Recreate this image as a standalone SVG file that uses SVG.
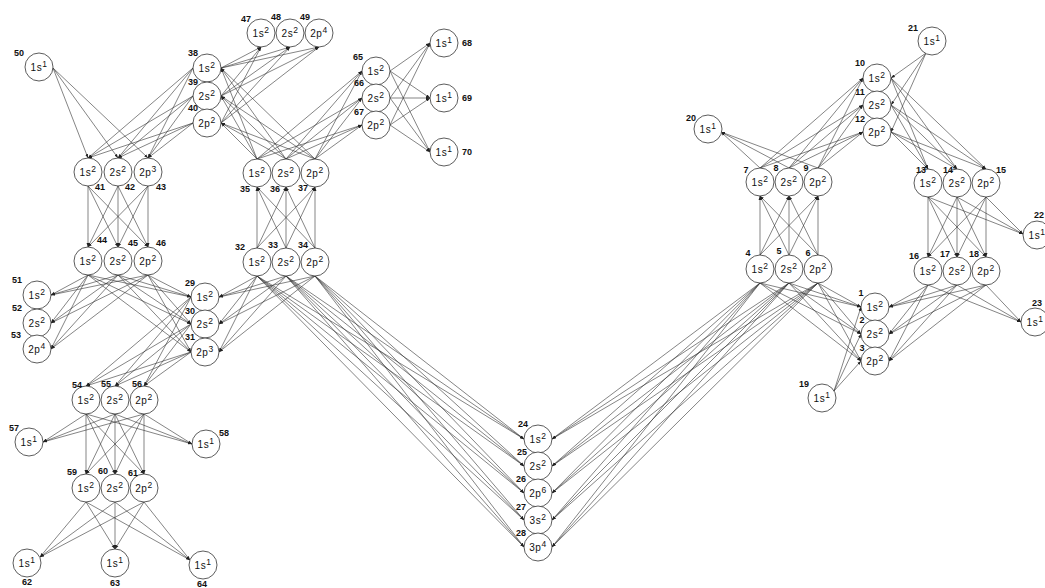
<svg xmlns="http://www.w3.org/2000/svg" width="1045" height="588" viewBox="0 0 1045 588">
<defs>
<marker id="a" viewBox="0 0 6 6" refX="6" refY="3" markerWidth="4" markerHeight="4" markerUnits="userSpaceOnUse" orient="auto"><path d="M0,0.8 L6,3 L0,5.2z" fill="#222"/></marker>
<style>
.c line{stroke:#333;stroke-width:.6;marker-end:url(#a)}
circle{fill:#fff;stroke:#333;stroke-width:.8}
.t{font-family:"Liberation Sans",Arial,sans-serif;font-size:10px;fill:#111;text-anchor:middle;letter-spacing:.5px}
.t tspan{font-size:8.5px}
.n{font-family:"Liberation Sans",Arial,sans-serif;font-size:9px;font-weight:bold;fill:#111;text-anchor:middle}
</style>
</defs>
<rect width="1045" height="588" fill="#fff"/>
<g class="c" id="connectors">
<line x1="760" y1="283" x2="861" y2="307"/><line x1="760" y1="283" x2="861" y2="334"/><line x1="760" y1="283" x2="861" y2="361"/>
<line x1="789" y1="283" x2="861" y2="307"/><line x1="789" y1="283" x2="861" y2="334"/><line x1="789" y1="283" x2="861" y2="361"/>
<line x1="818" y1="283" x2="861" y2="307"/><line x1="818" y1="283" x2="861" y2="334"/><line x1="818" y1="283" x2="861" y2="361"/>
<line x1="928" y1="285" x2="889" y2="307"/><line x1="928" y1="285" x2="889" y2="334"/><line x1="928" y1="285" x2="889" y2="361"/>
<line x1="957" y1="285" x2="889" y2="307"/><line x1="957" y1="285" x2="889" y2="334"/><line x1="957" y1="285" x2="889" y2="361"/>
<line x1="986" y1="285" x2="889" y2="307"/><line x1="986" y1="285" x2="889" y2="334"/><line x1="986" y1="285" x2="889" y2="361"/>
<line x1="834" y1="391" x2="861" y2="307"/><line x1="834" y1="391" x2="861" y2="334"/><line x1="834" y1="391" x2="861" y2="361"/>
<line x1="760" y1="255" x2="760" y2="196"/><line x1="760" y1="255" x2="789" y2="196"/><line x1="760" y1="255" x2="818" y2="196"/>
<line x1="789" y1="255" x2="760" y2="196"/><line x1="789" y1="255" x2="789" y2="196"/><line x1="789" y1="255" x2="818" y2="196"/>
<line x1="818" y1="255" x2="760" y2="196"/><line x1="818" y1="255" x2="789" y2="196"/><line x1="818" y1="255" x2="818" y2="196"/>
<line x1="760" y1="168" x2="863" y2="78"/><line x1="760" y1="168" x2="863" y2="105"/><line x1="760" y1="168" x2="863" y2="132"/>
<line x1="789" y1="168" x2="863" y2="78"/><line x1="789" y1="168" x2="863" y2="105"/><line x1="789" y1="168" x2="863" y2="132"/>
<line x1="818" y1="168" x2="863" y2="78"/><line x1="818" y1="168" x2="863" y2="105"/><line x1="818" y1="168" x2="863" y2="132"/>
<line x1="760" y1="168" x2="721" y2="132"/><line x1="789" y1="168" x2="721" y2="132"/><line x1="818" y1="168" x2="721" y2="132"/>
<line x1="891" y1="78" x2="928" y2="169"/><line x1="891" y1="78" x2="957" y2="169"/><line x1="891" y1="78" x2="986" y2="169"/>
<line x1="891" y1="105" x2="928" y2="169"/><line x1="891" y1="105" x2="957" y2="169"/><line x1="891" y1="105" x2="986" y2="169"/>
<line x1="891" y1="132" x2="928" y2="169"/><line x1="891" y1="132" x2="957" y2="169"/><line x1="891" y1="132" x2="986" y2="169"/>
<line x1="926" y1="53" x2="891" y2="78"/><line x1="926" y1="53" x2="891" y2="105"/><line x1="926" y1="53" x2="891" y2="132"/>
<line x1="928" y1="197" x2="928" y2="257"/><line x1="928" y1="197" x2="957" y2="257"/><line x1="928" y1="197" x2="986" y2="257"/>
<line x1="957" y1="197" x2="928" y2="257"/><line x1="957" y1="197" x2="957" y2="257"/><line x1="957" y1="197" x2="986" y2="257"/>
<line x1="986" y1="197" x2="928" y2="257"/><line x1="986" y1="197" x2="957" y2="257"/><line x1="986" y1="197" x2="986" y2="257"/>
<line x1="928" y1="197" x2="1023" y2="234"/><line x1="957" y1="197" x2="1023" y2="234"/><line x1="986" y1="197" x2="1023" y2="234"/>
<line x1="928" y1="285" x2="1021" y2="322"/><line x1="957" y1="285" x2="1021" y2="322"/><line x1="986" y1="285" x2="1021" y2="322"/>
<line x1="760" y1="283" x2="552" y2="439"/><line x1="760" y1="283" x2="552" y2="466"/><line x1="760" y1="283" x2="552" y2="493"/><line x1="760" y1="283" x2="552" y2="520"/><line x1="760" y1="283" x2="552" y2="547"/>
<line x1="789" y1="283" x2="552" y2="439"/><line x1="789" y1="283" x2="552" y2="466"/><line x1="789" y1="283" x2="552" y2="493"/><line x1="789" y1="283" x2="552" y2="520"/><line x1="789" y1="283" x2="552" y2="547"/>
<line x1="818" y1="283" x2="552" y2="439"/><line x1="818" y1="283" x2="552" y2="466"/><line x1="818" y1="283" x2="552" y2="493"/><line x1="818" y1="283" x2="552" y2="520"/><line x1="818" y1="283" x2="552" y2="547"/>
<line x1="257" y1="276" x2="524" y2="439"/><line x1="257" y1="276" x2="524" y2="466"/><line x1="257" y1="276" x2="524" y2="493"/><line x1="257" y1="276" x2="524" y2="520"/><line x1="257" y1="276" x2="524" y2="547"/>
<line x1="286" y1="276" x2="524" y2="439"/><line x1="286" y1="276" x2="524" y2="466"/><line x1="286" y1="276" x2="524" y2="493"/><line x1="286" y1="276" x2="524" y2="520"/><line x1="286" y1="276" x2="524" y2="547"/>
<line x1="315" y1="276" x2="524" y2="439"/><line x1="315" y1="276" x2="524" y2="466"/><line x1="315" y1="276" x2="524" y2="493"/><line x1="315" y1="276" x2="524" y2="520"/><line x1="315" y1="276" x2="524" y2="547"/>
<line x1="257" y1="248" x2="257" y2="187"/><line x1="257" y1="248" x2="286" y2="187"/><line x1="257" y1="248" x2="315" y2="187"/>
<line x1="286" y1="248" x2="257" y2="187"/><line x1="286" y1="248" x2="286" y2="187"/><line x1="286" y1="248" x2="315" y2="187"/>
<line x1="315" y1="248" x2="257" y2="187"/><line x1="315" y1="248" x2="286" y2="187"/><line x1="315" y1="248" x2="315" y2="187"/>
<line x1="257" y1="276" x2="219" y2="297"/><line x1="257" y1="276" x2="219" y2="324"/><line x1="257" y1="276" x2="219" y2="352"/>
<line x1="286" y1="276" x2="219" y2="297"/><line x1="286" y1="276" x2="219" y2="324"/><line x1="286" y1="276" x2="219" y2="352"/>
<line x1="315" y1="276" x2="219" y2="297"/><line x1="315" y1="276" x2="219" y2="324"/><line x1="315" y1="276" x2="219" y2="352"/>
<line x1="257" y1="159" x2="221" y2="68"/><line x1="257" y1="159" x2="221" y2="96"/><line x1="257" y1="159" x2="221" y2="123"/>
<line x1="286" y1="159" x2="221" y2="68"/><line x1="286" y1="159" x2="221" y2="96"/><line x1="286" y1="159" x2="221" y2="123"/>
<line x1="315" y1="159" x2="221" y2="68"/><line x1="315" y1="159" x2="221" y2="96"/><line x1="315" y1="159" x2="221" y2="123"/>
<line x1="257" y1="159" x2="362" y2="71"/><line x1="257" y1="159" x2="362" y2="98"/><line x1="257" y1="159" x2="362" y2="125"/>
<line x1="286" y1="159" x2="362" y2="71"/><line x1="286" y1="159" x2="362" y2="98"/><line x1="286" y1="159" x2="362" y2="125"/>
<line x1="315" y1="159" x2="362" y2="71"/><line x1="315" y1="159" x2="362" y2="98"/><line x1="315" y1="159" x2="362" y2="125"/>
<line x1="221" y1="68" x2="261" y2="47"/><line x1="221" y1="68" x2="290" y2="47"/><line x1="221" y1="68" x2="319" y2="47"/>
<line x1="221" y1="96" x2="261" y2="47"/><line x1="221" y1="96" x2="290" y2="47"/><line x1="221" y1="96" x2="319" y2="47"/>
<line x1="221" y1="123" x2="261" y2="47"/><line x1="221" y1="123" x2="290" y2="47"/><line x1="221" y1="123" x2="319" y2="47"/>
<line x1="193" y1="68" x2="88" y2="158"/><line x1="193" y1="68" x2="118" y2="158"/><line x1="193" y1="68" x2="148" y2="158"/>
<line x1="193" y1="96" x2="88" y2="158"/><line x1="193" y1="96" x2="118" y2="158"/><line x1="193" y1="96" x2="148" y2="158"/>
<line x1="193" y1="123" x2="88" y2="158"/><line x1="193" y1="123" x2="118" y2="158"/><line x1="193" y1="123" x2="148" y2="158"/>
<line x1="53" y1="68" x2="88" y2="158"/><line x1="53" y1="68" x2="118" y2="158"/><line x1="53" y1="68" x2="148" y2="158"/>
<line x1="88" y1="186" x2="88" y2="247"/><line x1="88" y1="186" x2="118" y2="247"/><line x1="88" y1="186" x2="148" y2="247"/>
<line x1="118" y1="186" x2="88" y2="247"/><line x1="118" y1="186" x2="118" y2="247"/><line x1="118" y1="186" x2="148" y2="247"/>
<line x1="148" y1="186" x2="88" y2="247"/><line x1="148" y1="186" x2="118" y2="247"/><line x1="148" y1="186" x2="148" y2="247"/>
<line x1="88" y1="275" x2="51" y2="295"/><line x1="88" y1="275" x2="51" y2="323"/><line x1="88" y1="275" x2="51" y2="349"/>
<line x1="118" y1="275" x2="51" y2="295"/><line x1="118" y1="275" x2="51" y2="323"/><line x1="118" y1="275" x2="51" y2="349"/>
<line x1="148" y1="275" x2="51" y2="295"/><line x1="148" y1="275" x2="51" y2="323"/><line x1="148" y1="275" x2="51" y2="349"/>
<line x1="88" y1="275" x2="191" y2="297"/><line x1="88" y1="275" x2="191" y2="324"/><line x1="88" y1="275" x2="191" y2="352"/>
<line x1="118" y1="275" x2="191" y2="297"/><line x1="118" y1="275" x2="191" y2="324"/><line x1="118" y1="275" x2="191" y2="352"/>
<line x1="148" y1="275" x2="191" y2="297"/><line x1="148" y1="275" x2="191" y2="324"/><line x1="148" y1="275" x2="191" y2="352"/>
<line x1="191" y1="297" x2="86" y2="386"/><line x1="191" y1="297" x2="115" y2="386"/><line x1="191" y1="297" x2="144" y2="386"/>
<line x1="191" y1="324" x2="86" y2="386"/><line x1="191" y1="324" x2="115" y2="386"/><line x1="191" y1="324" x2="144" y2="386"/>
<line x1="191" y1="352" x2="86" y2="386"/><line x1="191" y1="352" x2="115" y2="386"/><line x1="191" y1="352" x2="144" y2="386"/>
<line x1="86" y1="414" x2="43" y2="442"/><line x1="115" y1="414" x2="43" y2="442"/><line x1="144" y1="414" x2="43" y2="442"/>
<line x1="86" y1="414" x2="192" y2="444"/><line x1="115" y1="414" x2="192" y2="444"/><line x1="144" y1="414" x2="192" y2="444"/>
<line x1="86" y1="414" x2="86" y2="474"/><line x1="86" y1="414" x2="115" y2="474"/><line x1="86" y1="414" x2="144" y2="474"/>
<line x1="115" y1="414" x2="86" y2="474"/><line x1="115" y1="414" x2="115" y2="474"/><line x1="115" y1="414" x2="144" y2="474"/>
<line x1="144" y1="414" x2="86" y2="474"/><line x1="144" y1="414" x2="115" y2="474"/><line x1="144" y1="414" x2="144" y2="474"/>
<line x1="86" y1="502" x2="40" y2="557"/><line x1="115" y1="502" x2="40" y2="557"/><line x1="144" y1="502" x2="40" y2="557"/>
<line x1="86" y1="502" x2="115" y2="549"/><line x1="115" y1="502" x2="115" y2="549"/><line x1="144" y1="502" x2="115" y2="549"/>
<line x1="86" y1="502" x2="190" y2="560"/><line x1="115" y1="502" x2="190" y2="560"/><line x1="144" y1="502" x2="190" y2="560"/>
<line x1="390" y1="71" x2="430" y2="43"/><line x1="390" y1="98" x2="430" y2="43"/><line x1="390" y1="125" x2="430" y2="43"/>
<line x1="390" y1="71" x2="430" y2="98"/><line x1="390" y1="98" x2="430" y2="98"/><line x1="390" y1="125" x2="430" y2="98"/>
<line x1="390" y1="71" x2="430" y2="152"/><line x1="390" y1="98" x2="430" y2="152"/><line x1="390" y1="125" x2="430" y2="152"/>
</g>
<g id="n1"><circle cx="875" cy="307" r="14"/><text class="t" x="875" y="311">1s<tspan dy="-4">2</tspan></text><text class="n" x="861" y="296">1</text></g>
<g id="n2"><circle cx="875" cy="334" r="14"/><text class="t" x="875" y="338">2s<tspan dy="-4">2</tspan></text><text class="n" x="862" y="323">2</text></g>
<g id="n3"><circle cx="875" cy="361" r="14"/><text class="t" x="875" y="365">2p<tspan dy="-4">2</tspan></text><text class="n" x="862" y="351">3</text></g>
<g id="n4"><circle cx="760" cy="269" r="14"/><text class="t" x="760" y="273">1s<tspan dy="-4">2</tspan></text><text class="n" x="748" y="256">4</text></g>
<g id="n5"><circle cx="789" cy="269" r="14"/><text class="t" x="789" y="273">2s<tspan dy="-4">2</tspan></text><text class="n" x="779" y="254">5</text></g>
<g id="n6"><circle cx="818" cy="269" r="14"/><text class="t" x="818" y="273">2p<tspan dy="-4">2</tspan></text><text class="n" x="808" y="256">6</text></g>
<g id="n7"><circle cx="760" cy="182" r="14"/><text class="t" x="760" y="186">1s<tspan dy="-4">2</tspan></text><text class="n" x="746" y="173">7</text></g>
<g id="n8"><circle cx="789" cy="182" r="14"/><text class="t" x="789" y="186">2s<tspan dy="-4">2</tspan></text><text class="n" x="776" y="171">8</text></g>
<g id="n9"><circle cx="818" cy="182" r="14"/><text class="t" x="818" y="186">2p<tspan dy="-4">2</tspan></text><text class="n" x="806" y="171">9</text></g>
<g id="n10"><circle cx="877" cy="78" r="14"/><text class="t" x="877" y="82">1s<tspan dy="-4">2</tspan></text><text class="n" x="860" y="66">10</text></g>
<g id="n11"><circle cx="877" cy="105" r="14"/><text class="t" x="877" y="109">2s<tspan dy="-4">2</tspan></text><text class="n" x="860" y="95">11</text></g>
<g id="n12"><circle cx="877" cy="132" r="14"/><text class="t" x="877" y="136">2p<tspan dy="-4">2</tspan></text><text class="n" x="860" y="122">12</text></g>
<g id="n13"><circle cx="928" cy="183" r="14"/><text class="t" x="928" y="187">1s<tspan dy="-4">2</tspan></text><text class="n" x="921" y="173">13</text></g>
<g id="n14"><circle cx="957" cy="183" r="14"/><text class="t" x="957" y="187">2s<tspan dy="-4">2</tspan></text><text class="n" x="948" y="173">14</text></g>
<g id="n15"><circle cx="986" cy="183" r="14"/><text class="t" x="986" y="187">2p<tspan dy="-4">2</tspan></text><text class="n" x="1001" y="173">15</text></g>
<g id="n16"><circle cx="928" cy="271" r="14"/><text class="t" x="928" y="275">1s<tspan dy="-4">2</tspan></text><text class="n" x="914" y="259">16</text></g>
<g id="n17"><circle cx="957" cy="271" r="14"/><text class="t" x="957" y="275">2s<tspan dy="-4">2</tspan></text><text class="n" x="945" y="257">17</text></g>
<g id="n18"><circle cx="986" cy="271" r="14"/><text class="t" x="986" y="275">2p<tspan dy="-4">2</tspan></text><text class="n" x="974" y="257">18</text></g>
<g id="n19"><circle cx="822" cy="398" r="14"/><text class="t" x="822" y="402">1s<tspan dy="-4">1</tspan></text><text class="n" x="804" y="387">19</text></g>
<g id="n20"><circle cx="708" cy="129" r="14"/><text class="t" x="708" y="133">1s<tspan dy="-4">1</tspan></text><text class="n" x="691" y="121">20</text></g>
<g id="n21"><circle cx="932" cy="41" r="14"/><text class="t" x="932" y="45">1s<tspan dy="-4">1</tspan></text><text class="n" x="913" y="31">21</text></g>
<g id="n22"><circle cx="1037" cy="235" r="14"/><text class="t" x="1037" y="239">1s<tspan dy="-4">1</tspan></text><text class="n" x="1039" y="218">22</text></g>
<g id="n23"><circle cx="1035" cy="322" r="14"/><text class="t" x="1035" y="326">1s<tspan dy="-4">1</tspan></text><text class="n" x="1037" y="306">23</text></g>
<g id="n24"><circle cx="538" cy="439" r="14"/><text class="t" x="538" y="443">1s<tspan dy="-4">2</tspan></text><text class="n" x="523" y="427">24</text></g>
<g id="n25"><circle cx="538" cy="466" r="14"/><text class="t" x="538" y="470">2s<tspan dy="-4">2</tspan></text><text class="n" x="522" y="455">25</text></g>
<g id="n26"><circle cx="538" cy="493" r="14"/><text class="t" x="538" y="497">2p<tspan dy="-4">6</tspan></text><text class="n" x="521" y="482">26</text></g>
<g id="n27"><circle cx="538" cy="520" r="14"/><text class="t" x="538" y="524">3s<tspan dy="-4">2</tspan></text><text class="n" x="521" y="510">27</text></g>
<g id="n28"><circle cx="538" cy="547" r="14"/><text class="t" x="538" y="551">3p<tspan dy="-4">4</tspan></text><text class="n" x="521" y="536">28</text></g>
<g id="n29"><circle cx="205" cy="297" r="14"/><text class="t" x="205" y="301">1s<tspan dy="-4">2</tspan></text><text class="n" x="190" y="286">29</text></g>
<g id="n30"><circle cx="205" cy="324" r="14"/><text class="t" x="205" y="328">2s<tspan dy="-4">2</tspan></text><text class="n" x="190" y="314">30</text></g>
<g id="n31"><circle cx="205" cy="352" r="14"/><text class="t" x="205" y="356">2p<tspan dy="-4">3</tspan></text><text class="n" x="190" y="340">31</text></g>
<g id="n32"><circle cx="257" cy="262" r="14"/><text class="t" x="257" y="266">1s<tspan dy="-4">2</tspan></text><text class="n" x="240" y="250">32</text></g>
<g id="n33"><circle cx="286" cy="262" r="14"/><text class="t" x="286" y="266">2s<tspan dy="-4">2</tspan></text><text class="n" x="273" y="248">33</text></g>
<g id="n34"><circle cx="315" cy="262" r="14"/><text class="t" x="315" y="266">2p<tspan dy="-4">2</tspan></text><text class="n" x="303" y="248">34</text></g>
<g id="n35"><circle cx="257" cy="173" r="14"/><text class="t" x="257" y="177">1s<tspan dy="-4">2</tspan></text><text class="n" x="245" y="192">35</text></g>
<g id="n36"><circle cx="286" cy="173" r="14"/><text class="t" x="286" y="177">2s<tspan dy="-4">2</tspan></text><text class="n" x="275" y="192">36</text></g>
<g id="n37"><circle cx="315" cy="173" r="14"/><text class="t" x="315" y="177">2p<tspan dy="-4">2</tspan></text><text class="n" x="303" y="191">37</text></g>
<g id="n38"><circle cx="207" cy="68" r="14"/><text class="t" x="207" y="72">1s<tspan dy="-4">2</tspan></text><text class="n" x="193" y="56">38</text></g>
<g id="n39"><circle cx="207" cy="96" r="14"/><text class="t" x="207" y="100">2s<tspan dy="-4">2</tspan></text><text class="n" x="193" y="85">39</text></g>
<g id="n40"><circle cx="207" cy="123" r="14"/><text class="t" x="207" y="127">2p<tspan dy="-4">2</tspan></text><text class="n" x="193" y="111">40</text></g>
<g id="n41"><circle cx="88" cy="172" r="14"/><text class="t" x="88" y="176">1s<tspan dy="-4">2</tspan></text><text class="n" x="100" y="190">41</text></g>
<g id="n42"><circle cx="118" cy="172" r="14"/><text class="t" x="118" y="176">2s<tspan dy="-4">2</tspan></text><text class="n" x="130" y="190">42</text></g>
<g id="n43"><circle cx="148" cy="172" r="14"/><text class="t" x="148" y="176">2p<tspan dy="-4">3</tspan></text><text class="n" x="161" y="190">43</text></g>
<g id="n44"><circle cx="88" cy="261" r="14"/><text class="t" x="88" y="265">1s<tspan dy="-4">2</tspan></text><text class="n" x="102" y="243">44</text></g>
<g id="n45"><circle cx="118" cy="261" r="14"/><text class="t" x="118" y="265">2s<tspan dy="-4">2</tspan></text><text class="n" x="133" y="246">45</text></g>
<g id="n46"><circle cx="148" cy="261" r="14"/><text class="t" x="148" y="265">2p<tspan dy="-4">2</tspan></text><text class="n" x="161" y="246">46</text></g>
<g id="n47"><circle cx="261" cy="33" r="14"/><text class="t" x="261" y="37">1s<tspan dy="-4">2</tspan></text><text class="n" x="246" y="22">47</text></g>
<g id="n48"><circle cx="290" cy="33" r="14"/><text class="t" x="290" y="37">2s<tspan dy="-4">2</tspan></text><text class="n" x="276" y="20">48</text></g>
<g id="n49"><circle cx="319" cy="33" r="14"/><text class="t" x="319" y="37">2p<tspan dy="-4">4</tspan></text><text class="n" x="305" y="20">49</text></g>
<g id="n50"><circle cx="39" cy="67" r="14"/><text class="t" x="39" y="71">1s<tspan dy="-4">1</tspan></text><text class="n" x="19" y="56">50</text></g>
<g id="n51"><circle cx="37" cy="295" r="14"/><text class="t" x="37" y="299">1s<tspan dy="-4">2</tspan></text><text class="n" x="17" y="283">51</text></g>
<g id="n52"><circle cx="37" cy="323" r="14"/><text class="t" x="37" y="327">2s<tspan dy="-4">2</tspan></text><text class="n" x="17" y="311">52</text></g>
<g id="n53"><circle cx="37" cy="349" r="14"/><text class="t" x="37" y="353">2p<tspan dy="-4">4</tspan></text><text class="n" x="16" y="338">53</text></g>
<g id="n54"><circle cx="86" cy="400" r="14"/><text class="t" x="86" y="404">1s<tspan dy="-4">2</tspan></text><text class="n" x="77" y="388">54</text></g>
<g id="n55"><circle cx="115" cy="400" r="14"/><text class="t" x="115" y="404">2s<tspan dy="-4">2</tspan></text><text class="n" x="106" y="387">55</text></g>
<g id="n56"><circle cx="144" cy="400" r="14"/><text class="t" x="144" y="404">2p<tspan dy="-4">2</tspan></text><text class="n" x="137" y="387">56</text></g>
<g id="n57"><circle cx="29" cy="442" r="14"/><text class="t" x="29" y="446">1s<tspan dy="-4">1</tspan></text><text class="n" x="14" y="431">57</text></g>
<g id="n58"><circle cx="206" cy="444" r="14"/><text class="t" x="206" y="448">1s<tspan dy="-4">1</tspan></text><text class="n" x="224" y="436">58</text></g>
<g id="n59"><circle cx="86" cy="488" r="14"/><text class="t" x="86" y="492">1s<tspan dy="-4">2</tspan></text><text class="n" x="72" y="475">59</text></g>
<g id="n60"><circle cx="115" cy="488" r="14"/><text class="t" x="115" y="492">2s<tspan dy="-4">2</tspan></text><text class="n" x="103" y="474">60</text></g>
<g id="n61"><circle cx="144" cy="488" r="14"/><text class="t" x="144" y="492">2p<tspan dy="-4">2</tspan></text><text class="n" x="133" y="476">61</text></g>
<g id="n62"><circle cx="27" cy="563" r="14"/><text class="t" x="27" y="567">1s<tspan dy="-4">1</tspan></text><text class="n" x="27" y="585">62</text></g>
<g id="n63"><circle cx="115" cy="563" r="14"/><text class="t" x="115" y="567">1s<tspan dy="-4">1</tspan></text><text class="n" x="115" y="586">63</text></g>
<g id="n64"><circle cx="203" cy="565" r="14"/><text class="t" x="203" y="569">1s<tspan dy="-4">1</tspan></text><text class="n" x="202" y="587">64</text></g>
<g id="n65"><circle cx="376" cy="71" r="14"/><text class="t" x="376" y="75">1s<tspan dy="-4">2</tspan></text><text class="n" x="358" y="60">65</text></g>
<g id="n66"><circle cx="376" cy="98" r="14"/><text class="t" x="376" y="102">2s<tspan dy="-4">2</tspan></text><text class="n" x="359" y="86">66</text></g>
<g id="n67"><circle cx="376" cy="125" r="14"/><text class="t" x="376" y="129">2p<tspan dy="-4">2</tspan></text><text class="n" x="359" y="115">67</text></g>
<g id="n68"><circle cx="444" cy="43" r="14"/><text class="t" x="444" y="47">1s<tspan dy="-4">1</tspan></text><text class="n" x="467" y="46">68</text></g>
<g id="n69"><circle cx="444" cy="98" r="14"/><text class="t" x="444" y="102">1s<tspan dy="-4">1</tspan></text><text class="n" x="467" y="101">69</text></g>
<g id="n70"><circle cx="444" cy="152" r="14"/><text class="t" x="444" y="156">1s<tspan dy="-4">1</tspan></text><text class="n" x="467" y="155">70</text></g>
</svg>
